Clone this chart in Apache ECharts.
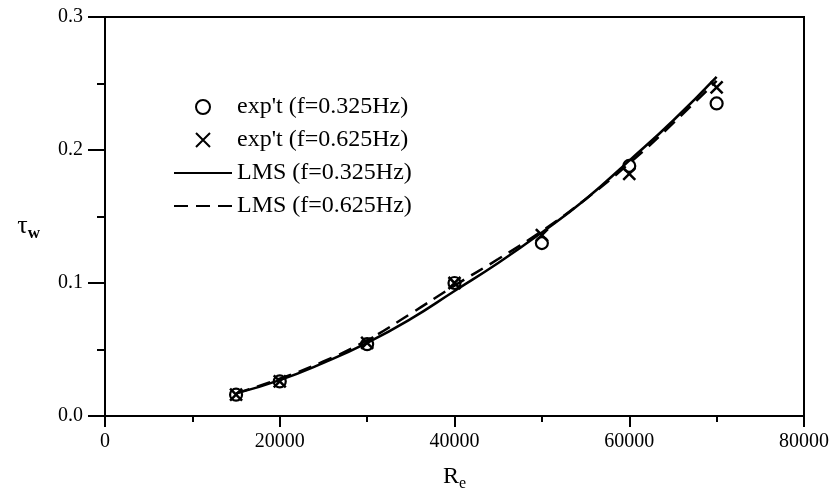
<!DOCTYPE html>
<html>
<head>
<meta charset="utf-8">
<script src="https://cdn.jsdelivr.net/npm/echarts@6/dist/echarts.min.js"></script>
<style>html,body{margin:0;padding:0;background:#fff}#c{width:838px;height:497px}</style>
</head>
<body>
<div id="c"></div>
<script>
// Experimental points
var expRe = [15000, 20000, 30000, 40000, 50000, 60000, 70000];
var exp0325 = [0.016, 0.026, 0.054, 0.100, 0.130, 0.188, 0.235];
var exp0625 = [0.016, 0.026, 0.055, 0.100, 0.136, 0.182, 0.247];
// LMS curves
var lmsRe = [15000, 20000, 25000, 30000, 35000, 40000, 45000, 50000, 55000, 60000, 65000, 70000];
var lms0325 = [0.017, 0.027, 0.040, 0.055, 0.073, 0.094, 0.115, 0.138, 0.163, 0.192, 0.222, 0.255];
var lms0625 = [0.017, 0.028, 0.041, 0.057, 0.077, 0.098, 0.118, 0.139, 0.163, 0.190, 0.220, 0.252];
var xTicks = [0, 20000, 40000, 60000, 80000];
var yTicks = [0.0, 0.1, 0.2, 0.3];
var names = ["exp't (f=0.325Hz)", "exp't (f=0.625Hz)", "LMS (f=0.325Hz)", "LMS (f=0.625Hz)"];

function pairs(xs, ys) { return xs.map(function (x, i) { return [x, ys[i]]; }); }

var FONT = 'Liberation Serif';
var chart = echarts.init(document.getElementById('c'), null, {renderer: 'canvas'});
chart.setOption({
  animation: false,
  backgroundColor: '#fff',
  grid: {left: 105, right: 34, top: 17, bottom: 77, show: true, borderColor: '#000', borderWidth: 2, backgroundColor: 'transparent'},
  legend: {
    orient: 'vertical', left: 168, top: 90,
    itemWidth: 58, itemHeight: 14, itemGap: 9,
    data: [
      {name: names[0]},
      {name: names[1]},
      {name: names[2], itemStyle: {opacity: 0}},
      {name: names[3], itemStyle: {opacity: 0}}
    ],
    textStyle: {fontFamily: FONT, fontSize: 24, color: '#000'}
  },
  xAxis: {
    type: 'value', min: xTicks[0], max: xTicks[xTicks.length - 1], interval: 20000,
    name: '{a|R}{b|e}', nameLocation: 'middle', nameGap: 46,
    nameTextStyle: {rich: {a: {fontFamily: FONT, fontSize: 24, color: '#000'}, b: {fontFamily: FONT, fontSize: 16, color: '#000', padding: [14, 0, 0, 0]}}},
    axisLine: {show: true, onZero: false, lineStyle: {color: '#000', width: 2}},
    axisTick: {show: true, inside: false, length: 11, lineStyle: {color: '#000', width: 2}},
    minorTick: {show: true, splitNumber: 2, length: 6, lineStyle: {color: '#000', width: 2}},
    splitLine: {show: false},
    axisLabel: {margin: 16, fontFamily: FONT, fontSize: 20, color: '#000', showMinLabel: true, showMaxLabel: true,
      formatter: function (v) { return String(v); }}
  },
  yAxis: {
    type: 'value', min: yTicks[0], max: yTicks[yTicks.length - 1], interval: 0.1,
    name: '{a|τ}{b|w}', nameLocation: 'middle', nameGap: 65, nameRotate: 0,
    nameTextStyle: {padding: [20, 0, 0, 0], rich: {a: {fontFamily: FONT, fontSize: 26, color: '#000'}, b: {fontFamily: FONT, fontSize: 17, fontWeight: 'bold', color: '#000', padding: [14, 0, 0, 0]}}},
    axisLine: {show: true, onZero: false, lineStyle: {color: '#000', width: 2}},
    axisTick: {show: true, inside: false, length: 17, lineStyle: {color: '#000', width: 2}},
    minorTick: {show: true, splitNumber: 2, length: 8, lineStyle: {color: '#000', width: 2}},
    splitLine: {show: false},
    axisLabel: {margin: 22, fontFamily: FONT, fontSize: 20, color: '#000', formatter: function (v) { return v.toFixed(1); }}
  },
  series: [
    {name: names[0], type: 'scatter', data: pairs(expRe, exp0325), symbol: 'circle', symbolSize: 12,
     itemStyle: {color: 'rgba(255,255,255,0)', borderColor: '#000', borderWidth: 2.2, opacity: 1}, z: 5},
    {name: names[1], type: 'scatter', data: pairs(expRe, exp0625), symbol: 'path://M0,0L10,10M10,0L0,10', symbolSize: 12,
     itemStyle: {color: 'rgba(255,255,255,0)', borderColor: '#000', borderWidth: 2.5, opacity: 1}, z: 5},
    {name: names[2], type: 'line', data: pairs(lmsRe, lms0325), smooth: true, symbol: 'none', showSymbol: false,
     itemStyle: {color: '#000'}, lineStyle: {color: '#000', width: 2.5, type: 'solid'}},
    {name: names[3], type: 'line', data: pairs(lmsRe, lms0625), smooth: true, symbol: 'none', showSymbol: false,
     itemStyle: {color: '#000'}, lineStyle: {color: '#000', width: 2.5, type: [14, 8]}}
  ]
});
</script>
</body>
</html>
